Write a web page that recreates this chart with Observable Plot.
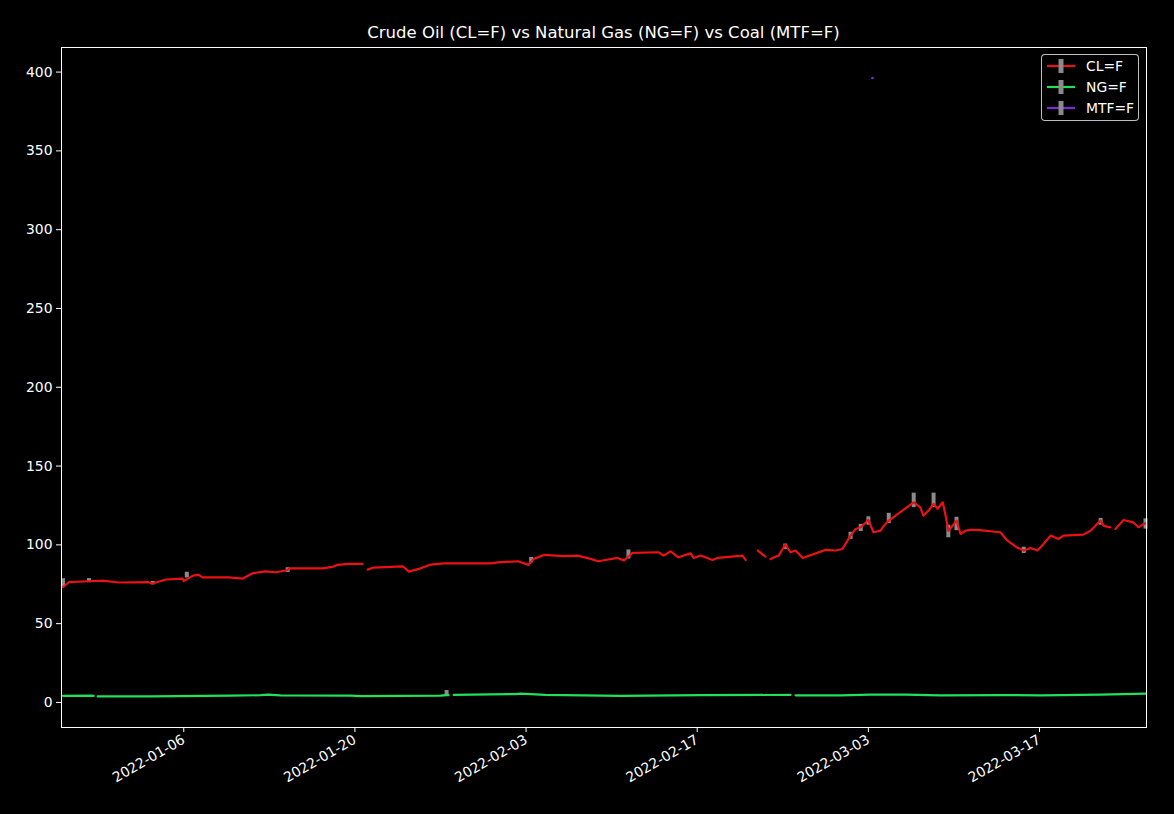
<!DOCTYPE html>
<html>
<head>
<meta charset="utf-8">
<script src="https://cdn.jsdelivr.net/npm/d3@7"></script>
<script src="https://cdn.jsdelivr.net/npm/@observablehq/plot@0.6"></script>
<style>
  html, body { margin: 0; padding: 0; background: #000; }
  #wrap { position: relative; width: 1174px; height: 814px; background: #000; font-family: "DejaVu Sans", sans-serif; color: #fff; }
  #title { height: 46px; box-sizing: border-box; padding-top: 23px; padding-left: 61px; width: 1146px; text-align: center; font-size: 16.5px; line-height: 20px; }
  #legend { position: absolute; left: 1041px; top: 54px; width: 98px; height: 67px; box-sizing: border-box; border: 1px solid rgba(255,255,255,0.75); border-radius: 4px; background: rgba(0,0,0,0.8); font-size: 13.9px; }
  .row { position: absolute; left: 0; height: 16px; width: 96px; }
  .row svg { position: absolute; left: 4px; top: 0; }
  .row span { position: absolute; left: 44px; top: -1px; line-height: 18px; white-space: nowrap; }
</style>
</head>
<body>
<div id="wrap">
  <div id="title">Crude Oil (CL=F) vs Natural Gas (NG=F) vs Coal (MTF=F)</div>
  <div id="chart"></div>
  <div id="legend"></div>
</div>
<script>
// ---------- Data ----------
const seriesNames = ["CL=F", "NG=F", "MTF=F"];
const seriesColors = ["#ea1212", "#22e05a", "#7b2bd6"];

const clDates = [
  "2021-12-27T03:00Z","2021-12-27T14:00Z","2021-12-29T06:00Z","2021-12-30T09:00Z","2021-12-31T16:00Z",
  "2022-01-03T03:00Z","2022-01-03T11:00Z","2022-01-04T13:00Z","2022-01-05T22:00Z","2022-01-06T00:00Z",
  "2022-01-06T18:00Z","2022-01-07T05:00Z","2022-01-07T13:00Z","2022-01-09T16:00Z","2022-01-10T20:00Z",
  "2022-01-11T15:00Z","2022-01-12T17:00Z","2022-01-13T13:00Z","2022-01-14T08:00Z","2022-01-14T18:00Z",
  "2022-01-17T09:00Z","2022-01-18T06:00Z","2022-01-18T14:00Z","2022-01-19T12:00Z","2022-01-20T15:00Z",
  "2022-01-20T20:00Z","2022-01-21T01:00Z","2022-01-21T13:00Z","2022-01-23T22:00Z","2022-01-24T10:00Z",
  "2022-01-25T09:00Z","2022-01-26T05:00Z","2022-01-27T06:00Z","2022-01-28T10:00Z","2022-01-31T03:00Z",
  "2022-01-31T16:00Z","2022-02-02T08:00Z","2022-02-03T05:00Z","2022-02-03T15:00Z","2022-02-04T11:00Z",
  "2022-02-06T02:00Z","2022-02-07T05:00Z","2022-02-08T07:00Z","2022-02-08T21:00Z","2022-02-09T12:00Z",
  "2022-02-10T12:00Z","2022-02-11T00:00Z","2022-02-11T09:00Z","2022-02-11T17:00Z","2022-02-13T20:00Z",
  "2022-02-14T06:00Z","2022-02-14T20:00Z","2022-02-15T11:00Z","2022-02-16T11:00Z","2022-02-16T17:00Z",
  "2022-02-17T07:00Z","2022-02-18T06:00Z","2022-02-18T16:00Z","2022-02-20T17:00Z","2022-02-20T23:00Z",
  "2022-02-21T10:00Z","2022-02-21T23:00Z","2022-02-22T14:00Z","2022-02-22T19:00Z","2022-02-23T00:00Z",
  "2022-02-23T04:00Z","2022-02-23T16:00Z","2022-02-24T05:00Z","2022-02-24T15:00Z","2022-02-25T01:00Z",
  "2022-02-25T15:00Z","2022-02-27T12:00Z","2022-02-28T08:00Z","2022-02-28T21:00Z","2022-03-01T13:00Z",
  "2022-03-01T23:00Z","2022-03-02T09:00Z","2022-03-03T00:00Z","2022-03-03T10:00Z","2022-03-04T00:00Z",
  "2022-03-04T06:00Z","2022-03-04T16:00Z","2022-03-06T17:00Z","2022-03-07T06:00Z","2022-03-07T12:00Z",
  "2022-03-07T22:00Z","2022-03-08T08:00Z","2022-03-08T16:00Z","2022-03-09T02:00Z","2022-03-09T07:00Z",
  "2022-03-09T13:00Z","2022-03-09T21:00Z","2022-03-10T05:00Z","2022-03-10T13:00Z","2022-03-10T23:00Z",
  "2022-03-11T09:00Z","2022-03-11T22:00Z","2022-03-13T19:00Z","2022-03-14T09:00Z","2022-03-15T05:00Z",
  "2022-03-15T17:00Z","2022-03-16T06:00Z","2022-03-16T20:00Z","2022-03-17T08:00Z","2022-03-17T22:00Z",
  "2022-03-18T13:00Z","2022-03-18T23:00Z","2022-03-20T14:00Z","2022-03-21T04:00Z","2022-03-22T00:00Z",
  "2022-03-22T06:00Z","2022-03-22T19:00Z","2022-03-23T00:00Z","2022-03-23T05:00Z","2022-03-23T21:00Z",
  "2022-03-24T16:00Z","2022-03-25T02:00Z","2022-03-25T16:00Z"
];
const clValues = [
  73.1, 76.3, 76.9, 77.3, 76.1,
  76.3, 75.5, 78.0, 78.6, 77.0,
  80.5, 81.0, 79.4, 79.4, 78.6,
  82.0, 83.2, 82.6, 83.7, 85.1,
  85.1, 86.2, 87.3, 87.9, 87.9,
  null, 84.3, 85.6, 86.4, 83.0,
  85.1, 87.5, 88.3, 88.3, 88.3,
  88.9, 89.6, 87.3, 91.1, 93.6,
  92.8, 93.2, 91.1, 89.6, 90.4,
  91.7, 90.0, 92.6, 94.9, 95.3,
  93.2, 95.9, 92.1, 94.6, 91.7,
  93.2, 90.4, 91.7, 93.2, 90.4,
  null, 96.4, 92.5, null, 91.0,
  91.7, 93.2, 100.2, 95.3, 96.4,
  91.7, 96.8, 96.4, 97.4, 105.9,
  110.1, 111.2, 115.8, 108.0, 109.0,
  112.0, 115.4, 127.0, 123.8, 118.5,
  121.7, 126.0, 122.9, 127.0, 119.6,
  109.0, 112.0, 115.4, 106.9, 109.0,
  109.5, 109.5, 108.0, 102.7, 98.1,
  96.4, 98.0, 96.4, 100.6, 105.9,
  103.7, 105.9, 106.5, 109.0, 115.4,
  112.0, 111.1, null, 110.1, 115.8,
  114.3, 111.2, 113.7
];

// CL=F high-low bars (visible ones)
const clBarDates = [
  "2021-12-27T03:00Z","2021-12-29T06:00Z","2022-01-03T11:00Z","2022-01-06T06:00Z","2022-01-14T12:00Z",
  "2022-02-03T10:00Z","2022-02-11T09:00Z","2022-02-24T05:00Z","2022-03-01T13:00Z","2022-03-02T09:00Z",
  "2022-03-03T00:00Z","2022-03-04T16:00Z","2022-03-06T17:00Z","2022-03-08T08:00Z","2022-03-09T13:00Z",
  "2022-03-10T05:00Z","2022-03-15T17:00Z","2022-03-22T00:00Z","2022-03-25T16:00Z"
];
const clBarLow = [73.0, 76.0, 74.6, 79.0, 82.5, 88.5, 91.0, 97.0, 103.5, 108.5, 112.5, 113.5, 123.6, 123.6, 104.5, 109.0, 94.5, 112.5, 110.0];
const clBarHigh = [78.5, 78.6, 76.8, 82.6, 85.5, 92.0, 96.8, 100.5, 108.0, 113.0, 117.8, 120.0, 132.8, 132.8, 112.5, 117.5, 98.5, 116.8, 116.5];

const ngDates = [
  "2021-12-27T03:00Z","2021-12-29T10:00Z","2021-12-29T15:00Z","2021-12-29T19:00Z","2021-12-29T23:00Z",
  "2022-01-03T07:00Z","2022-01-09T20:00Z","2022-01-12T07:00Z","2022-01-12T23:00Z","2022-01-13T22:00Z",
  "2022-01-19T16:00Z","2022-01-20T11:00Z","2022-01-27T00:00Z","2022-01-27T12:00Z","2022-01-27T16:00Z",
  "2022-01-27T21:00Z","2022-01-28T02:00Z","2022-02-02T04:00Z","2022-02-02T13:00Z","2022-02-04T14:00Z",
  "2022-02-10T18:00Z","2022-02-17T07:00Z","2022-02-24T15:00Z","2022-02-24T20:00Z","2022-02-25T01:00Z",
  "2022-02-28T17:00Z","2022-03-03T04:00Z","2022-03-06T01:00Z","2022-03-08T22:00Z","2022-03-13T19:00Z",
  "2022-03-17T02:00Z","2022-03-22T00:00Z","2022-03-25T16:00Z"
];
const ngValues = [
  4.2, 4.3, 4.2, null, 3.8,
  3.9, 4.3, 4.6, 5.0, 4.5,
  4.3, 4.0, 4.3, 4.7, 4.7,
  null, 4.8, 5.3, 5.6, 4.8,
  4.2, 4.6, 4.8, null, 4.5,
  4.5, 4.9, 5.0, 4.5, 4.7,
  4.5, 5.0, 5.6
];
const ngBarDates = ["2022-01-27T12:00Z"];
const ngBarLow = [4.4];
const ngBarHigh = [7.6];

const mtfDates = ["2022-03-03T08:00Z"];
const mtfValues = [396.2];

const yTicks = [0, 50, 100, 150, 200, 250, 300, 350, 400];
const xTickLabels = ["2022-01-06", "2022-01-20", "2022-02-03", "2022-02-17", "2022-03-03", "2022-03-17"];

// ---------- Build tables ----------
const toRows = (dates, values) => dates.map((d, i) => ({date: new Date(d), value: values[i]}));
const toBars = (dates, lo, hi) => dates.map((d, i) => ({date: new Date(d), low: lo[i], high: hi[i]}));
const cl = toRows(clDates, clValues);
const ng = toRows(ngDates, ngValues);
const mtf = toRows(mtfDates, mtfValues);
const clBars = toBars(clBarDates, clBarLow, clBarHigh);
const ngBars = toBars(ngBarDates, ngBarLow, ngBarHigh);
const xTicks = xTickLabels.map(s => new Date(s + "T00:00Z"));

const chart = Plot.plot({
  width: 1174,
  height: 768,
  marginTop: 1,
  marginRight: 28,
  marginBottom: 87,
  marginLeft: 61,
  style: {background: "#000", color: "#fff", fontFamily: "DejaVu Sans, sans-serif", fontSize: "13.9px", overflow: "visible"},
  x: {type: "utc", domain: [new Date("2021-12-27T00:00Z"), new Date("2022-03-25T18:00Z")]},
  y: {domain: [-15.9, 415.6]},
  marks: [
    Plot.axisY({ticks: yTicks, tickSize: 5, tickPadding: 4, label: null, fontSize: 13.9}),
    Plot.axisX({ticks: xTicks, tickFormat: d3.utcFormat("%Y-%m-%d"), tickRotate: -30, tickSize: 5, tickPadding: 6, label: null, fontSize: 13.9}),
    Plot.ruleX(clBars, {x: "date", y1: "low", y2: "high", stroke: "#8a8a8a", strokeWidth: 4}),
    Plot.ruleX(ngBars, {x: "date", y1: "low", y2: "high", stroke: "#8a8a8a", strokeWidth: 4}),
    Plot.line(cl, {x: "date", y: "value", stroke: seriesColors[0], strokeWidth: 2.2}),
    Plot.line(ng, {x: "date", y: "value", stroke: seriesColors[1], strokeWidth: 2.2}),
    Plot.line(mtf, {x: "date", y: "value", stroke: seriesColors[2], strokeWidth: 2}),
    Plot.dot(mtf, {x: "date", y: "value", fill: seriesColors[2], r: 1.3}),
    Plot.frame({stroke: "#fff", strokeWidth: 1})
  ]
});
document.getElementById("chart").appendChild(chart);

// ---------- Legend ----------
const legend = document.getElementById("legend");
seriesNames.forEach((name, i) => {
  const row = document.createElement("div");
  row.className = "row";
  row.style.top = (3 + i * 21) + "px";
  row.innerHTML =
    `<svg width="30" height="16"><line x1="1" x2="29" y1="8" y2="8" stroke="${seriesColors[i]}" stroke-width="2.2"/>` +
    `<rect x="12.5" y="1" width="5" height="14" fill="#8a8a8a"/></svg><span>${name}</span>`;
  legend.appendChild(row);
});
</script>
</body>
</html>
